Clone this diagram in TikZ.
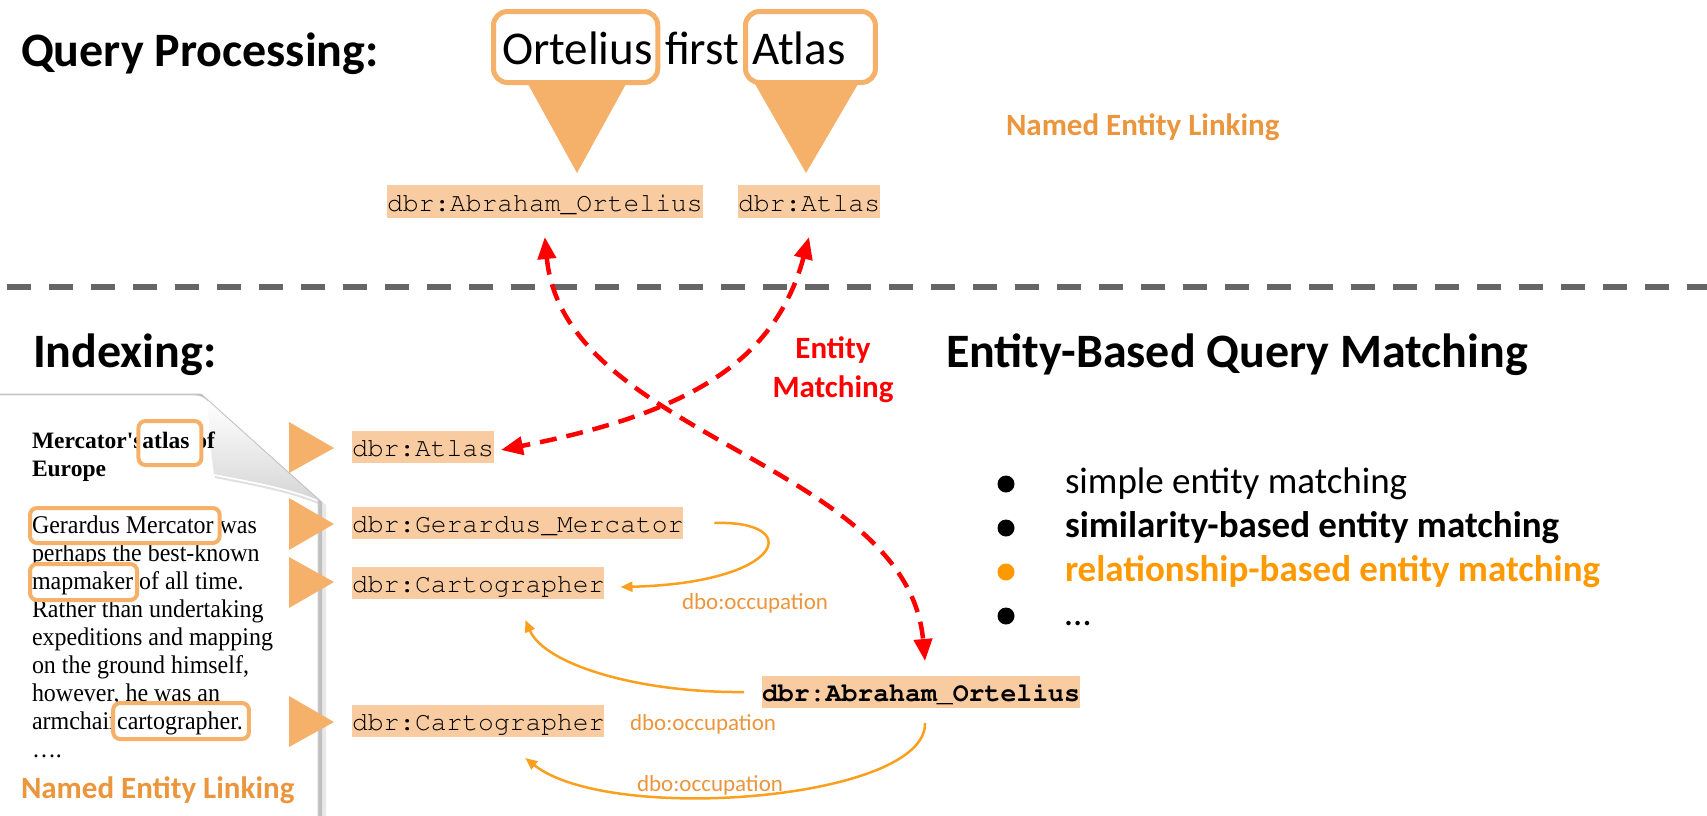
\documentclass[tikz,border=0pt]{standalone}
\usepackage[T1]{fontenc}
\usepackage{fontspec}
\setmainfont{Carlito}
\newfontfamily\timesfont[FakeStretch=0.94]{Liberation Serif}
\newfontfamily\timesbold{Liberation Serif}
\newcommand\courfont{\fontencoding{T1}\fontfamily{pcr}\selectfont}
\usetikzlibrary{arrows.meta,calc}
\definecolor{pinorange}{RGB}{245,177,106}
\definecolor{peach}{RGB}{248,203,160}
\definecolor{lblorange}{RGB}{235,150,60}
\definecolor{relorange}{RGB}{255,153,0}
\definecolor{arrorange}{RGB}{250,160,30}
\definecolor{sepgray}{RGB}{102,102,102}
\definecolor{matchred}{RGB}{255,0,0}
\pgfdeclarelayer{boxes}
\pgfdeclarelayer{front}
\pgfsetlayers{main,boxes,front}
\tikzset{
  txt/.style={anchor=base west, inner sep=0pt, outer sep=0pt},
  heading/.style={txt, font=\fontsize{48}{58}\selectfont\bfseries},
  query/.style={txt, font=\fontsize{47}{56}\selectfont},
  nel/.style={txt, font=\fontsize{31}{37}\selectfont\bfseries, text=lblorange},
  matchlbl/.style={anchor=base, inner sep=0pt, font=\fontsize{31}{37}\selectfont\bfseries, text=matchred},
  item/.style={txt, font=\fontsize{37}{44}\selectfont},
  bolditem/.style={txt, font=\fontsize{37}{44}\selectfont\bfseries},
  dot/.style={circle, fill=black, minimum size=17pt, inner sep=0pt},
  rel/.style={txt, font=\fontsize{23}{28}\selectfont, text=lblorange},
  entity/.style={txt, fill=peach, text height=25pt, text depth=7pt, font=\courfont\fontsize{26.3}{30}\selectfont},
  docline/.style={txt, font=\timesfont\fontsize{25.5}{28}\selectfont},
  doctitle/.style={txt, font=\timesbold\bfseries\fontsize{23.5}{28}\selectfont},
  qbox/.style={draw=pinorange, line width=5pt, rounded corners=14pt},
  wbox/.style={draw=pinorange, fill=white, line width=4pt, rounded corners=7pt},
  pin/.style={fill=pinorange},
  matcharrow/.style={draw=matchred, line width=4.5pt, dash pattern=on 17pt off 10pt,
    {Triangle[length=22pt,width=18pt]}-{Triangle[length=22pt,width=18pt]}},
  relarrow/.style={draw=arrorange, line width=2.5pt, -{Triangle[length=12pt,width=10pt]}},
}
\begin{document}
\begin{tikzpicture}[x=1pt,y=-1pt]
\useasboundingbox (0,0) rectangle (1707,815);
\fill[white] (0,0) rectangle (1707,815);

% ---------- query processing ----------
\node[heading] (qp) at (21,66) {Query Processing:};
\node[query] (ort) at (502,64) {Ortelius};
\node[query] (first) at (665,64) {first};
\node[query] (atlq) at (752,64) {Atlas};
\draw[qbox] ($(ort.base west)+(-8.5,-52.5)$) rectangle ($(ort.base east)+(5,18.5)$);
\draw[qbox] ($(atlq.base west)+(-6.5,-52.5)$) rectangle ($(atlq.base east)+(30,18.5)$);
\fill[pin] (528,84) -- (626,84) -- (577,173) -- cycle;
\fill[pin] (755,84) -- (858,84) -- (806,173) -- cycle;

\node[entity, text height=26pt] (qort) at (387,211) {dbr:Abraham\_Ortelius};
\node[entity, text height=26pt] (qatl) at (738,211) {dbr:Atlas};
\node[nel] (nel1) at (1006,135) {Named Entity Linking};

% separator
\draw[sepgray, line width=6pt, dash pattern=on 24pt off 18pt] (7,287) -- (1707,287);

% ---------- indexing ----------
\node[heading] (idx) at (33,367) {Indexing:};
\node[heading] (ebqm) at (946,367) {Entity-Based Query Matching};
\node[matchlbl] (em1) at (833,358) {Entity};
\node[matchlbl] (em2) at (833,397) {Matching};

% sheet with curled corner
\fill[black!35, opacity=0.25] (-10,393) -- (200,393) -- (326,505) -- (326,830) -- (-10,830) -- cycle;
\fill[black!55, opacity=0.35] (-10,394) -- (202,394) -- (322,502) -- (322,830) -- (-10,830) -- cycle;
\filldraw[fill=white, draw=black!18, line width=0.8pt] (-10,395) -- (194,395)
  .. controls (200,395) and (204,397) .. (208,401) -- (318,500) -- (318,830) -- (-10,830) -- cycle;
\shade[top color=white, bottom color=black!16] (208,401) .. controls (209,430) and (211,455) .. (214,474)
  .. controls (250,481) and (290,488) .. (318,500) -- cycle;
\draw[black!20, line width=2pt, opacity=0.6] (215,477) .. controls (250,484) and (290,491) .. (318,503);

% sheet text
\node[doctitle] (t1a) at (32,448) {Mercator's\ };
\begin{pgfonlayer}{front}
\node[doctitle] (t1b) at (t1a.base east) {atlas};
\end{pgfonlayer}
\node[doctitle] (t1c) at (t1b.base east) {\ of};
\node[doctitle] (t2) at (32,476) {Europe};

\begin{pgfonlayer}{front}
\node[docline] (l1a) at (32,533) {Gerardus Mercator};
\end{pgfonlayer}
\node[docline] (l1b) at (l1a.base east) {\ was};
\node[docline] (l2) at (32,561) {perhaps the best-known};
\begin{pgfonlayer}{front}
\node[docline] (l3a) at (32,589) {mapmaker};
\end{pgfonlayer}
\node[docline] (l3b) at (l3a.base east) {\ of all time.};
\node[docline] (l4) at (32,617) {Rather than undertaking};
\node[docline] (l5) at (32,645) {expeditions and mapping};
\node[docline] (l6) at (32,673) {on the ground himself,};
\node[docline] (l7) at (32,701) {however, he was an};
\node[docline] (l8a) at (32,729) {armchair\ };
\begin{pgfonlayer}{front}
\node[docline] (l8b) at (l8a.base east) {cartographer.};
\end{pgfonlayer}
\node[docline] (l9) at (32,757) {….};

\begin{pgfonlayer}{boxes}
\draw[wbox] ($(t1b.base west)+(-4,-27)$) rectangle ($(t1b.base east)+(12,17)$);
\draw[wbox] ($(l1a.base west)+(-2,-25)$) rectangle ($(l1a.base east)+(6,10)$);
\draw[wbox] ($(l3a.base west)+(-2,-25)$) rectangle ($(l3a.base east)+(4,11)$);
\draw[wbox] ($(l8b.base west)+(-4,-26)$) rectangle ($(l8b.base east)+(6,10)$);
\end{pgfonlayer}

\node[nel] (nel2) at (21,798) {Named Entity Linking};

% linking pins
\fill[pin] (289,422) -- (334,448) -- (289,473) -- cycle;
\fill[pin] (289,498) -- (334,524) -- (289,550) -- cycle;
\fill[pin] (289,557) -- (334,582) -- (289,608) -- cycle;
\fill[pin] (289,696) -- (334,722) -- (289,747) -- cycle;

% indexed entities
\node[entity] (latl) at (352,456) {dbr:Atlas};
\node[entity] (lgm) at (352,532) {dbr:Gerardus\_Mercator};
\node[entity] (lc1) at (352,592) {dbr:Cartographer};
\node[entity] (lc2) at (352,730) {dbr:Cartographer};
\node[entity, font=\courfont\bfseries\fontsize{26.5}{30}\selectfont] (lort) at (762,701) {dbr:Abraham\_Ortelius};

% relations
\draw[relarrow] ($(lgm.east)+(31,0)$) .. controls (805,520) and (785,583) .. ($(lc1.east)+(16,4)$);
\draw[relarrow] ($(lort.west)+(-18,0)$) .. controls (640,693) and (545,665) .. ($(lc1.south)+(47,21)$);
\draw[relarrow] ($(lort.south)+(4,15)$) .. controls (927,800) and (610,825) .. ($(lc2.south)+(47,21)$);
\node[rel] (r1) at (682,609) {dbo:occupation};
\node[rel] (r2) at (630,730) {dbo:occupation};
\node[rel] (r3) at (637,791) {dbo:occupation};

% entity matching
\draw[matcharrow] ($(qatl.south)+(0,19)$) .. controls (774,367) and (679,415) .. ($(latl.east)+(7,3)$);
\draw[matcharrow] ($(qort.south)+(0,19)$) .. controls (564,437) and (907,462) .. ($(lort.north)+(4,-15)$);

% matching strategies
\node[dot] (b1) at (1006,484) {};
\node[dot] (b2) at (1006,528) {};
\node[dot, fill=relorange] (b3) at (1006,572) {};
\node[dot] (b4) at (1006,616) {};
\node[item] (i1) at (1065,493) {simple entity matching};
\node[bolditem] (i2) at (1065,537) {similarity-based entity matching};
\node[bolditem, text=relorange] (i3) at (1065,581) {relationship-based entity matching};
\node[item] (i4) at (1065,625) {…};
\end{tikzpicture}
\end{document}
